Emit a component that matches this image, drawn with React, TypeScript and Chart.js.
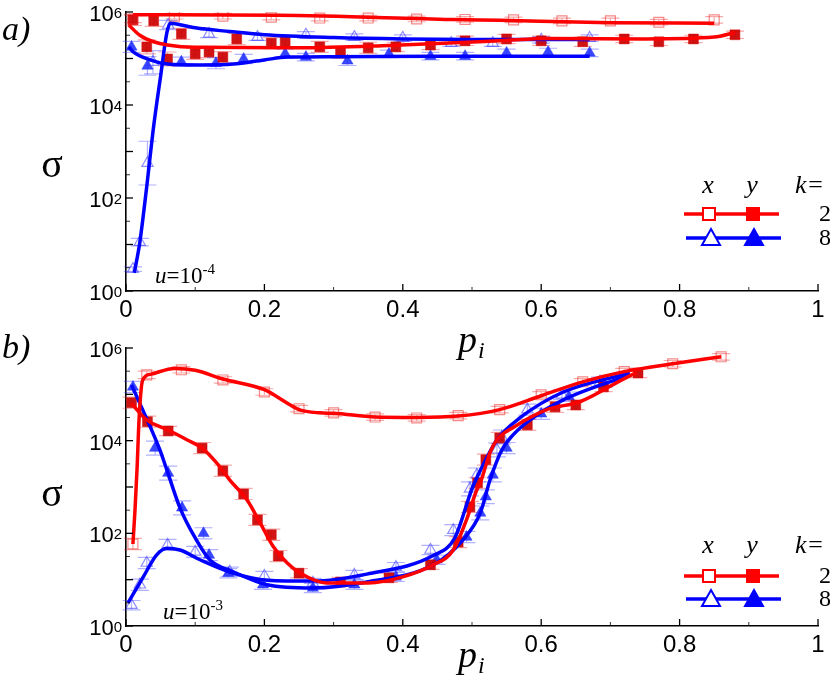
import React, { useEffect, useRef } from "react";
import { Chart, registerables } from "chart.js";

Chart.register(...registerables);

// ---- panel a) u = 1e-4 : measured points (p_i, log10 sigma, error bar half-height in decades)
const aXk2P = [0.01, 0.07, 0.14, 0.21, 0.28, 0.35, 0.42, 0.49, 0.56, 0.63, 0.7, 0.77, 0.85];
const aXk2Log = [5.85, 5.91, 5.91, 5.89, 5.87, 5.87, 5.85, 5.84, 5.83, 5.81, 5.81, 5.78, 5.83];
const aXk2Err = [0.08, 0.06, 0.06, 0.06, 0.06, 0.06, 0.06, 0.06, 0.06, 0.06, 0.06, 0.06, 0.07];

const aYk2P = [0.01, 0.03, 0.04, 0.06, 0.08, 0.1, 0.12, 0.14, 0.16, 0.21, 0.23, 0.28, 0.31, 0.35, 0.39, 0.44, 0.49, 0.55, 0.6, 0.66, 0.72, 0.77, 0.82, 0.88];
const aYk2Log = [5.83, 5.25, 5.81, 4.99, 5.53, 5.1, 5.14, 5.03, 5.42, 5.33, 5.36, 5.25, 5.12, 5.23, 5.25, 5.29, 5.38, 5.42, 5.38, 5.36, 5.42, 5.36, 5.42, 5.51];
const aYk2Err = [0.12, 0.15, 0.12, 0.15, 0.12, 0.12, 0.12, 0.12, 0.12, 0.12, 0.12, 0.12, 0.12, 0.12, 0.1, 0.1, 0.1, 0.1, 0.1, 0.1, 0.08, 0.08, 0.08, 0.08];

const aXk8P = [0.01, 0.02, 0.031, 0.039, 0.061, 0.12, 0.19, 0.26, 0.33, 0.4, 0.47, 0.53, 0.6, 0.67];
const aXk8Log = [0.47, 1.05, 2.75, 4.92, 5.72, 5.53, 5.46, 5.51, 5.46, 5.44, 5.33, 5.33, 5.4, 5.44];
const aXk8Err = [0.05, 0.08, 0.47, 0.25, 0.1, 0.08, 0.07, 0.07, 0.07, 0.07, 0.07, 0.07, 0.07, 0.07];

const aYk8P = [0.008, 0.031, 0.08, 0.13, 0.17, 0.23, 0.26, 0.32, 0.38, 0.44, 0.49, 0.55, 0.61, 0.67];
const aYk8Log = [5.25, 4.84, 4.93, 4.9, 4.99, 5.1, 5.03, 4.95, 5.1, 5.05, 5.05, 5.12, 5.14, 5.12];
const aYk8Err = [0.12, 0.2, 0.1, 0.12, 0.1, 0.1, 0.08, 0.1, 0.08, 0.08, 0.08, 0.08, 0.08, 0.08];

// ---- panel a) fitted curves
const aXk2FitP = [0.01, 0.22, 0.47, 0.54, 0.7, 0.85];
const aXk2FitLog = [5.94, 5.93, 5.84, 5.82, 5.77, 5.76];
const aYk2FitP = [0.004, 0.02, 0.04, 0.06, 0.1, 0.25, 0.38, 0.54, 0.61, 0.75, 0.85, 0.88];
const aYk2FitLog = [5.72, 5.5, 5.36, 5.29, 5.24, 5.23, 5.28, 5.38, 5.43, 5.42, 5.46, 5.56];
const aXk8FitP = [0.012, 0.02, 0.03, 0.04, 0.05, 0.059, 0.064, 0.08, 0.1, 0.15, 0.2, 0.3, 0.4, 0.5, 0.67];
const aXk8FitLog = [0.39, 1.05, 2.25, 3.55, 4.62, 5.55, 5.76, 5.72, 5.66, 5.58, 5.51, 5.45, 5.42, 5.41, 5.41];
const aYk8FitP = [0.004, 0.01, 0.035, 0.06, 0.107, 0.155, 0.2, 0.233, 0.3, 0.45, 0.67];
const aYk8FitLog = [5.25, 5.15, 4.97, 4.88, 4.86, 4.88, 4.97, 5.03, 5.04, 5.05, 5.05];

// ---- panel b) u = 1e-3 : measured points
const bXk2P = [0.01, 0.03, 0.08, 0.14, 0.2, 0.25, 0.3, 0.36, 0.42, 0.48, 0.54, 0.6, 0.66, 0.72, 0.79, 0.86];
const bXk2Log = [1.77, 5.42, 5.53, 5.31, 5.05, 4.69, 4.6, 4.51, 4.49, 4.54, 4.67, 4.99, 5.27, 5.49, 5.66, 5.81];
const bXk2Err = [0.12, 0.08, 0.07, 0.07, 0.07, 0.07, 0.07, 0.07, 0.07, 0.07, 0.07, 0.07, 0.07, 0.07, 0.07, 0.07];

const bYk2P = [0.008, 0.031, 0.061, 0.11, 0.14, 0.17, 0.19, 0.21, 0.22, 0.25, 0.31, 0.38, 0.44, 0.48, 0.497, 0.508, 0.52, 0.54, 0.58, 0.62, 0.65, 0.69, 0.74];
const bYk2Log = [4.82, 4.41, 4.21, 3.84, 3.35, 2.85, 2.29, 1.97, 1.51, 1.14, 0.95, 1.04, 1.32, 1.81, 2.57, 3.09, 3.59, 4.06, 4.34, 4.73, 4.77, 5.16, 5.46];
const bYk2Err = [0.12, 0.12, 0.1, 0.12, 0.12, 0.12, 0.12, 0.12, 0.12, 0.1, 0.1, 0.1, 0.1, 0.12, 0.12, 0.12, 0.12, 0.12, 0.12, 0.12, 0.1, 0.1, 0.1];

const bXk8P = [0.008, 0.02, 0.03, 0.06, 0.1, 0.15, 0.2, 0.27, 0.33, 0.39, 0.44, 0.473, 0.497, 0.507, 0.536, 0.543, 0.58, 0.63, 0.685];
const bXk8Log = [0.45, 0.89, 1.36, 1.75, 1.6, 1.17, 1.08, 0.93, 1.1, 1.27, 1.64, 2.07, 2.96, 3.26, 3.8, 4.08, 4.67, 4.99, 5.27];
const bXk8Err = [0.1, 0.12, 0.12, 0.12, 0.12, 0.1, 0.1, 0.1, 0.1, 0.1, 0.1, 0.12, 0.15, 0.15, 0.15, 0.15, 0.12, 0.1, 0.1];

const bYk8P = [0.01, 0.042, 0.061, 0.081, 0.112, 0.12, 0.148, 0.198, 0.27, 0.33, 0.39, 0.449, 0.492, 0.512, 0.52, 0.53, 0.55, 0.6, 0.64, 0.69];
const bYk8Log = [5.16, 3.84, 3.3, 2.55, 2.0, 1.53, 1.14, 0.89, 0.82, 0.89, 1.06, 1.43, 1.92, 2.44, 2.79, 3.26, 3.84, 4.58, 4.95, 5.25];
const bYk8Err = [0.12, 0.15, 0.15, 0.15, 0.12, 0.12, 0.1, 0.1, 0.1, 0.1, 0.1, 0.1, 0.12, 0.15, 0.15, 0.15, 0.12, 0.12, 0.1, 0.1];

// ---- panel b) fitted curves
const bXk2FitP = [0.01, 0.013, 0.016, 0.019, 0.024, 0.035, 0.07, 0.1, 0.14, 0.2, 0.232, 0.25, 0.28, 0.3, 0.36, 0.42, 0.48, 0.54, 0.6, 0.66, 0.72, 0.79, 0.86];
const bXk2FitLog = [1.77, 2.5, 3.4, 4.5, 5.3, 5.43, 5.56, 5.52, 5.33, 5.1, 4.82, 4.67, 4.6, 4.59, 4.51, 4.5, 4.53, 4.67, 4.97, 5.27, 5.49, 5.66, 5.81];
const bYk2FitP = [0.008, 0.03, 0.061, 0.088, 0.11, 0.131, 0.15, 0.175, 0.194, 0.213, 0.233, 0.252, 0.29, 0.35, 0.4, 0.444, 0.473, 0.492, 0.507, 0.512, 0.526, 0.536, 0.559, 0.608, 0.656, 0.728, 0.738];
const bYk2FitLog = [4.8, 4.45, 4.23, 4.02, 3.84, 3.52, 3.15, 2.72, 2.22, 1.71, 1.36, 1.14, 0.93, 0.93, 1.06, 1.32, 1.64, 2.29, 2.94, 3.09, 3.74, 4.02, 4.28, 4.67, 4.84, 5.4, 5.46];
const bXk8FitP = [0.003, 0.025, 0.044, 0.059, 0.078, 0.107, 0.155, 0.204, 0.27, 0.348, 0.444, 0.475, 0.501, 0.52, 0.536, 0.569, 0.632, 0.728];
const bXk8FitLog = [0.5, 1.06, 1.53, 1.68, 1.64, 1.43, 1.14, 0.99, 0.97, 1.12, 1.52, 1.9, 3.0, 3.59, 4.02, 4.49, 5.05, 5.46];
const bYk8FitP = [0.008, 0.035, 0.049, 0.059, 0.078, 0.1, 0.121, 0.155, 0.204, 0.27, 0.348, 0.444, 0.487, 0.512, 0.526, 0.543, 0.559, 0.584, 0.632, 0.728];
const bYk8FitLog = [5.2, 4.3, 3.8, 3.37, 2.55, 1.9, 1.43, 1.17, 0.89, 0.82, 0.95, 1.32, 1.86, 2.44, 3.15, 3.8, 4.12, 4.45, 4.88, 5.42];

const xTicks = ["0", "0.2", "0.4", "0.6", "0.8", "1"];
const yLabelExps = [0, 2, 4, 6];

const RED = "#ff0000";
const BLUE = "#0000ff";

type Series = {
  p: number[];
  logS: number[];
  err: number[];
  fitP: number[];
  fitLogS: number[];
  line: string;
  mark: string;
  bar: string;
  style: "rect" | "triangle";
  filled: boolean;
};

type PanelCfg = {
  canvasTop: number;
  canvasH: number;
  plotTop: number;
  plotBottom: number;
  tag: string;
  tagY: number;
  sigmaY: number;
  piY: number;
  uExp: string;
  uX: number;
  uY: number;
  legHeadY: number;
  legRedY: number;
  legBlueY: number;
  series: Series[];
};

const PLOT_LEFT = 126;
const PLOT_RIGHT = 818;

const mk = (
  p: number[], logS: number[], err: number[], fitP: number[], fitLogS: number[],
  red: boolean, filled: boolean
): Series => ({
  p, logS, err, fitP, fitLogS,
  line: red ? RED : BLUE,
  mark: red
    ? filled ? "rgba(204,0,0,0.92)" : "rgba(235,40,40,0.55)"
    : filled ? "rgba(30,45,255,0.88)" : "rgba(50,50,255,0.55)",
  bar: red ? "rgba(235,40,40,0.4)" : "rgba(60,60,255,0.4)",
  style: red ? "rect" : "triangle",
  filled,
});

const panelA: PanelCfg = {
  canvasTop: 0, canvasH: 365, plotTop: 12, plotBottom: 291,
  tag: "a)", tagY: 40, sigmaY: 166, piY: 352, uExp: "-4", uX: 155, uY: 283,
  legHeadY: 193, legRedY: 214, legBlueY: 238,
  series: [
    mk(aXk2P, aXk2Log, aXk2Err, aXk2FitP, aXk2FitLog, true, false),
    mk(aYk2P, aYk2Log, aYk2Err, aYk2FitP, aYk2FitLog, true, true),
    mk(aXk8P, aXk8Log, aXk8Err, aXk8FitP, aXk8FitLog, false, false),
    mk(aYk8P, aYk8Log, aYk8Err, aYk8FitP, aYk8FitLog, false, true),
  ],
};

const panelB: PanelCfg = {
  canvasTop: 330, canvasH: 347, plotTop: 348, plotBottom: 626,
  tag: "b)", tagY: 358, sigmaY: 495, piY: 667, uExp: "-3", uX: 163, uY: 619,
  legHeadY: 553, legRedY: 576, legBlueY: 599,
  series: [
    mk(bXk2P, bXk2Log, bXk2Err, bXk2FitP, bXk2FitLog, true, false),
    mk(bYk2P, bYk2Log, bYk2Err, bYk2FitP, bYk2FitLog, true, true),
    mk(bXk8P, bXk8Log, bXk8Err, bXk8FitP, bXk8FitLog, false, false),
    mk(bYk8P, bYk8Log, bYk8Err, bYk8FitP, bYk8FitLog, false, true),
  ],
};

function legendTriangle(ctx: CanvasRenderingContext2D, cx: number, cy: number, filled: boolean) {
  ctx.beginPath();
  ctx.moveTo(cx, cy - 9);
  ctx.lineTo(cx + 9, cy + 7);
  ctx.lineTo(cx - 9, cy + 7);
  ctx.closePath();
  ctx.fillStyle = filled ? BLUE : "#fff";
  ctx.fill();
  ctx.lineWidth = 2;
  ctx.strokeStyle = BLUE;
  ctx.stroke();
}

function legendSquare(ctx: CanvasRenderingContext2D, cx: number, cy: number, filled: boolean) {
  ctx.fillStyle = filled ? RED : "#fff";
  ctx.fillRect(cx - 6, cy - 6, 12, 12);
  ctx.lineWidth = 2;
  ctx.strokeStyle = RED;
  ctx.strokeRect(cx - 6, cy - 6, 12, 12);
}

function makeDecor(cfg: PanelCfg) {
  return {
    id: "decor",
    beforeDatasetsDraw(chart: Chart) {
      const ctx = chart.ctx;
      const xs = chart.scales.x;
      const ys = chart.scales.y;
      ctx.save();
      ctx.lineWidth = 1.2;
      cfg.series.forEach((s) => {
        ctx.strokeStyle = s.bar;
        s.p.forEach((p, i) => {
          const x = xs.getPixelForValue(p);
          const y1 = ys.getPixelForValue(10 ** (s.logS[i] + s.err[i]));
          const y2 = ys.getPixelForValue(10 ** (s.logS[i] - s.err[i]));
          ctx.beginPath();
          ctx.moveTo(x, y1);
          ctx.lineTo(x, y2);
          ctx.moveTo(x - 9, y1);
          ctx.lineTo(x + 9, y1);
          ctx.moveTo(x - 9, y2);
          ctx.lineTo(x + 9, y2);
          ctx.stroke();
        });
      });
      ctx.restore();
    },
    afterDraw(chart: Chart) {
      const ctx = chart.ctx;
      const xs = chart.scales.x;
      const ys = chart.scales.y;
      const o = cfg.canvasTop;
      const { left, bottom } = chart.chartArea;
      ctx.save();

      // inward tick marks
      ctx.strokeStyle = "#000";
      for (let n = 0; n <= 12; n++) {
        const y = ys.getPixelForValue(10 ** (n / 2));
        ctx.lineWidth = n % 2 === 0 ? 1.3 : 0.8;
        ctx.beginPath();
        ctx.moveTo(left, y);
        ctx.lineTo(left + (n % 2 === 0 ? 7 : 4), y);
        ctx.stroke();
      }
      for (let i = 0; i <= 10; i++) {
        const x = xs.getPixelForValue(i / 10);
        ctx.lineWidth = i % 2 === 0 ? 1.3 : 0.8;
        ctx.beginPath();
        ctx.moveTo(x, bottom);
        ctx.lineTo(x, bottom - (i % 2 === 0 ? 7 : 4));
        ctx.stroke();
      }

      // tick labels
      ctx.fillStyle = "#000";
      ctx.font = '24px "Liberation Sans"';
      ctx.textAlign = "center";
      ctx.textBaseline = "alphabetic";
      xTicks.forEach((t) => {
        ctx.fillText(t, xs.getPixelForValue(parseFloat(t)), bottom + 26);
      });
      yLabelExps.forEach((e) => {
        const y = ys.getPixelForValue(10 ** e);
        ctx.font = '15px "Liberation Sans"';
        const sup = String(e);
        const sw = ctx.measureText(sup).width;
        ctx.textAlign = "left";
        ctx.textBaseline = "top";
        ctx.fillText(sup, 122 - sw, y - 6);
        ctx.font = '22px "Liberation Sans"';
        ctx.textAlign = "right";
        ctx.textBaseline = "middle";
        ctx.fillText("10", 122 - sw, y + 3);
      });

      // axis titles and panel tag
      ctx.textBaseline = "alphabetic";
      ctx.textAlign = "left";
      ctx.font = 'italic 34px "Liberation Serif"';
      ctx.fillText(cfg.tag, 2, cfg.tagY - o);
      ctx.font = '40px "Liberation Serif"';
      ctx.textAlign = "center";
      ctx.textBaseline = "middle";
      ctx.fillText("σ", 52, cfg.sigmaY - o);
      ctx.textBaseline = "alphabetic";
      ctx.textAlign = "left";
      ctx.font = 'italic 38px "Liberation Serif"';
      ctx.fillText("p", 458, cfg.piY - o);
      ctx.font = 'italic 24px "Liberation Serif"';
      ctx.fillText("i", 478, cfg.piY - o + 6);

      // u = 10^-n
      ctx.font = 'italic 23px "Liberation Serif"';
      ctx.fillText("u", cfg.uX, cfg.uY - o);
      let ux = cfg.uX + ctx.measureText("u").width;
      ctx.font = '23px "Liberation Serif"';
      ctx.fillText("=10", ux, cfg.uY - o);
      ux += ctx.measureText("=10").width;
      ctx.font = '15px "Liberation Serif"';
      ctx.fillText(cfg.uExp, ux, cfg.uY - o - 9);

      // legend
      ctx.font = 'italic 26px "Liberation Serif"';
      ctx.textAlign = "center";
      ctx.fillText("x", 708, cfg.legHeadY - o);
      ctx.fillText("y", 752, cfg.legHeadY - o);
      ctx.textAlign = "left";
      ctx.fillText("k=", 795, cfg.legHeadY - o);
      ctx.lineWidth = 3.5;
      ctx.strokeStyle = RED;
      ctx.beginPath();
      ctx.moveTo(684, cfg.legRedY - o);
      ctx.lineTo(779, cfg.legRedY - o);
      ctx.stroke();
      ctx.strokeStyle = BLUE;
      ctx.beginPath();
      ctx.moveTo(686, cfg.legBlueY - o);
      ctx.lineTo(781, cfg.legBlueY - o);
      ctx.stroke();
      legendSquare(ctx, 709, cfg.legRedY - o, false);
      legendSquare(ctx, 753, cfg.legRedY - o, true);
      legendTriangle(ctx, 711, cfg.legBlueY - o, false);
      legendTriangle(ctx, 754, cfg.legBlueY - o, true);
      ctx.fillStyle = "#000";
      ctx.font = '24px "Liberation Serif"';
      ctx.textBaseline = "middle";
      ctx.fillText("2", 819, cfg.legRedY - o + 1);
      ctx.fillText("8", 819, cfg.legBlueY - o + 1);

      ctx.restore();
    },
  };
}

const Panel: React.FC<{ cfg: PanelCfg }> = ({ cfg }) => {
  const canvasRef = useRef<HTMLCanvasElement>(null);
  const chartRef = useRef<Chart | null>(null);

  useEffect(() => {
    const ctx = canvasRef.current?.getContext("2d");
    if (!ctx) return;
    if (chartRef.current) chartRef.current.destroy();

    const markerSets = cfg.series.map((s) => ({
      data: s.p.map((p, i) => ({ x: p, y: 10 ** s.logS[i] })),
      showLine: false,
      pointStyle: s.style,
      pointRadius: s.style === "rect" ? 7 : 6.5,
      pointBorderWidth: s.filled ? 0.5 : 1.2,
      pointBackgroundColor: s.filled ? s.mark : "rgba(0,0,0,0)",
      pointBorderColor: s.mark,
      order: 1,
    }));
    const fitSets = cfg.series.map((s) => ({
      data: s.fitP.map((p, i) => ({ x: p, y: 10 ** s.fitLogS[i] })),
      showLine: true,
      pointRadius: 0,
      borderColor: s.line,
      borderWidth: 3.5,
      cubicInterpolationMode: "monotone" as const,
      order: 0,
    }));

    chartRef.current = new Chart(ctx, {
      type: "scatter",
      data: { datasets: [...fitSets, ...markerSets] as any },
      options: {
        animation: false,
        responsive: false,
        events: [],
        layout: {
          padding: { top: cfg.plotTop - cfg.canvasTop, right: 830 - PLOT_RIGHT, left: 0, bottom: 0 },
        },
        plugins: { legend: { display: false }, tooltip: { enabled: false } },
        scales: {
          x: {
            type: "linear",
            min: 0,
            max: 1,
            grid: { display: false, drawTicks: false },
            border: { display: true, color: "#000", width: 1.6 },
            ticks: { display: false },
            afterFit: (s: any) => {
              s.height = cfg.canvasTop + cfg.canvasH - cfg.plotBottom;
            },
          },
          y: {
            type: "logarithmic",
            min: 1,
            max: 1e6,
            grid: { display: false, drawTicks: false },
            border: { display: true, color: "#000", width: 1.6 },
            ticks: { display: false },
            afterFit: (s: any) => {
              s.width = PLOT_LEFT;
            },
          },
        },
      },
      plugins: [makeDecor(cfg)],
    });

    return () => {
      if (chartRef.current) {
        chartRef.current.destroy();
        chartRef.current = null;
      }
    };
  }, [cfg]);

  return (
    <canvas
      ref={canvasRef}
      width={830}
      height={cfg.canvasH}
      style={{ position: "absolute", left: 0, top: cfg.canvasTop, width: 830, height: cfg.canvasH }}
    />
  );
};

export default function App() {
  return (
    <div style={{ position: "absolute", left: 0, top: 0, width: 830, height: 677, background: "#fff" }}>
      <Panel cfg={panelA} />
      <Panel cfg={panelB} />
    </div>
  );
}
